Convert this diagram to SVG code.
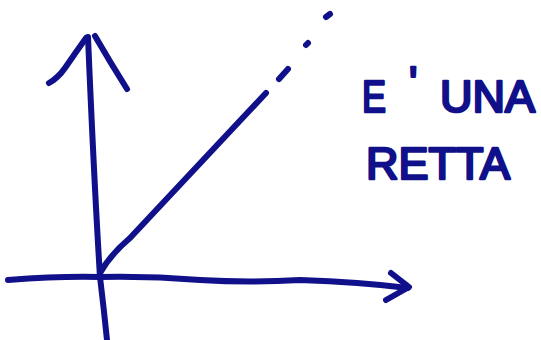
<svg xmlns="http://www.w3.org/2000/svg" width="541" height="340" viewBox="0 0 541 340">
<style>
.ink{fill:none;stroke:#10108a;stroke-width:6;stroke-linecap:round;stroke-linejoin:round}
.lbl{font-family:"Liberation Sans","DejaVu Sans",sans-serif;font-size:44px;fill:#10108a;stroke:#10108a;stroke-width:2.5;stroke-linejoin:round}
</style>
<rect width="541" height="340" fill="#ffffff"/>
<g id="axes">
<g id="y-axis">
<path class="ink" d="M88,37 Q94,180 100,277 Q104,310 107,340"/>
<path class="ink" d="M49,83 Q58,78 65,68 Q76,52 86,38"/>
<path class="ink" d="M95,36 Q110,62 127,89"/>
</g>
<g id="x-axis">
<path class="ink" d="M8,280 Q60,276 100,277 Q150,276 200,280 Q250,283 300,280 Q360,282 408,288"/>
<path class="ink" d="M391,273 L409,287 L386,300"/>
</g>
</g>
<g id="line">
<path class="ink" d="M100,273 Q110,255 130,238 L266,93"/>
<path class="ink" d="M279,79 L288,69"/>
<path class="ink" d="M306,45 L308,43"/>
<path class="ink" d="M326,17 L330,14"/>
</g>
<g id="label">
<text class="lbl" y="112"><tspan x="362" textLength="24" lengthAdjust="spacingAndGlyphs">E</tspan><tspan x="409" y="98">'</tspan><tspan x="440" y="112" textLength="95" lengthAdjust="spacingAndGlyphs">UNA</tspan></text>
<text class="lbl" x="366" y="179" textLength="144" lengthAdjust="spacingAndGlyphs">RETTA</text>
</g>
</svg>
